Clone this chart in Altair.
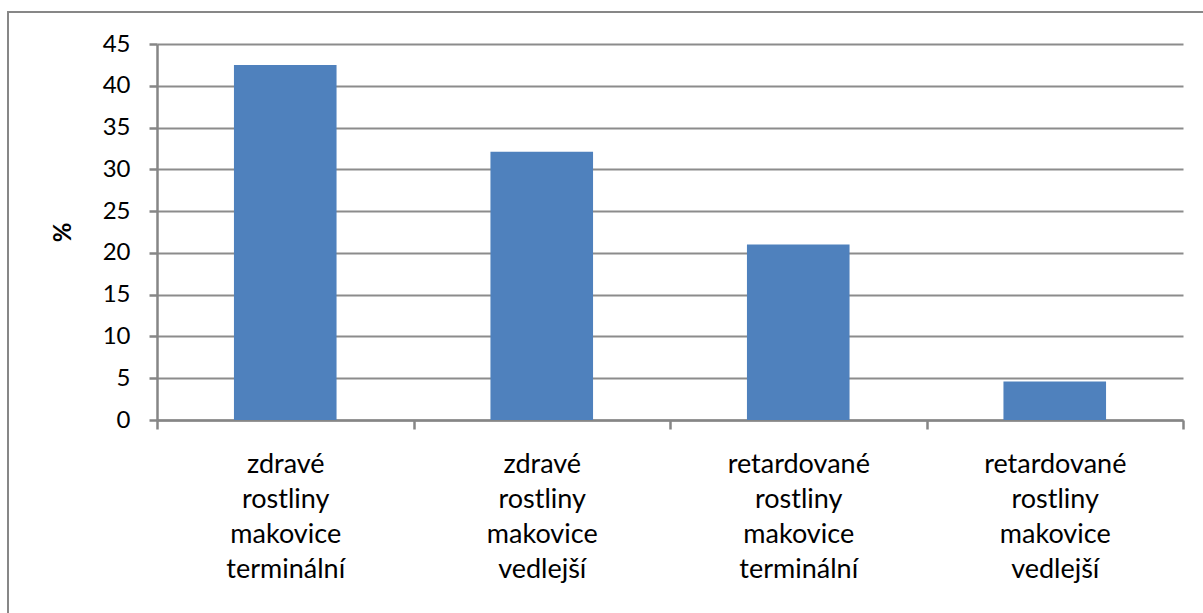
import altair as alt
import pandas as pd

# Share of capsules by plant group (%)
categories = [
    "zdravé rostliny makovice terminální",
    "zdravé rostliny makovice vedlejší",
    "retardované rostliny makovice terminální",
    "retardované rostliny makovice vedlejší",
]
values = [42.5, 32.1, 21.0, 4.6]
y_ticks = list(range(0, 46, 5))

df = pd.DataFrame({"skupina": categories, "procento": values})

GREY = "#868686"
FONT = "Lato"

bars = alt.Chart(df).mark_bar(
    color="#4F81BD", width=alt.RelativeBandSize(0.4)
).encode(
    x=alt.X(
        "skupina:N",
        sort=categories,
        scale=alt.Scale(paddingInner=0, paddingOuter=0),
        axis=alt.Axis(
            title=None,
            labelAngle=0,
            labelExpr="split(datum.label, ' ')",
            labelFont=FONT,
            labelFontSize=27,
            labelColor="#000000",
            labelLineHeight=35,
            labelBaseline="top",
            labelPadding=22,
            tickBand="extent",
            tickSize=9,
            tickWidth=2.5,
            tickColor=GREY,
            domainColor=GREY,
            domainWidth=2.5,
            grid=False,
        ),
    ),
    y=alt.Y(
        "procento:Q",
        scale=alt.Scale(domain=[0, 45], nice=False),
        axis=alt.Axis(
            title="%",
            titleFont=FONT,
            titleFontSize=24,
            titleFontWeight="bold",
            titleColor="#000000",
            titlePadding=27,
            values=y_ticks,
            labelFont=FONT,
            labelFontSize=24,
            labelColor="#000000",
            labelPadding=19,
            tickSize=8,
            tickWidth=2.5,
            tickColor=GREY,
            domainColor=GREY,
            domainWidth=2.5,
            grid=True,
            gridColor="#8c8c8c",
            gridWidth=2,
        ),
    ),
)

# Outer chart frame
frame = alt.Chart(df).mark_rect(
    fill=None, stroke=GREY, strokeWidth=1.5, clip=False
).encode(
    x=alt.value(-149),
    x2=alt.value(1070),
    y=alt.value(-32),
    y2=alt.value(600),
)

chart = (
    alt.layer(bars, frame)
    .properties(
        width=1026,
        height=376,
        padding={"left": 157, "top": 44, "right": 20, "bottom": 193},
        autosize=alt.AutoSizeParams(type="none"),
        background="#ffffff",
    )
    .configure_view(stroke=None)
)

chart.save("out.html", embed_options={"renderer": "svg", "actions": False})
